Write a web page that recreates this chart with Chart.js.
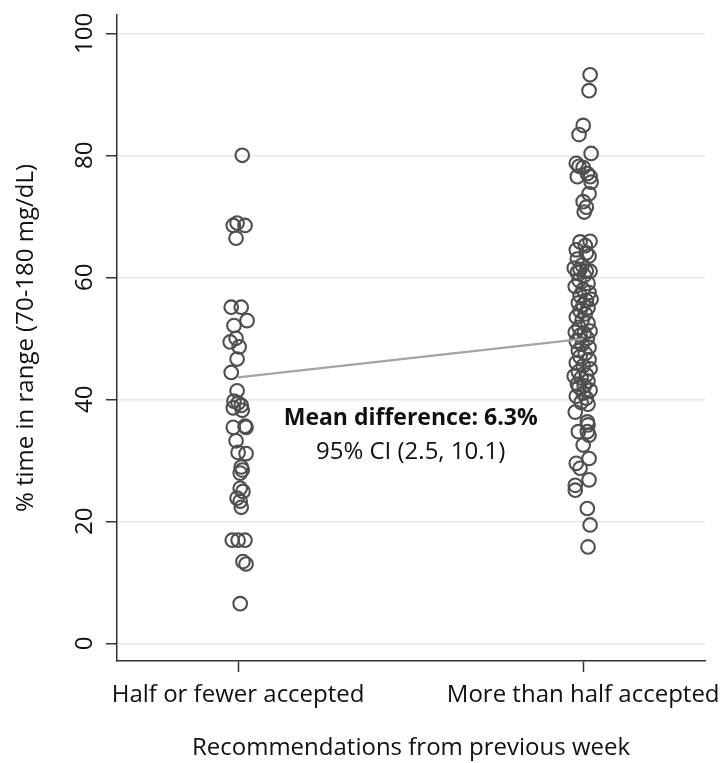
<!DOCTYPE html>
<html>
<head>
<meta charset="utf-8">
<script src="https://cdn.jsdelivr.net/npm/chart.js@4.4.1/dist/chart.umd.min.js"></script>
<style>
  html, body { margin: 0; padding: 0; background: #fff; }
  canvas { display: block; }
</style>
</head>
<body>
<canvas id="chart" width="727" height="763"></canvas>
<script>
// categorias e dados
const groupLabels = ['Half or fewer accepted', 'More than half accepted'];
const yTicks = [0, 20, 40, 60, 80, 100];
const groupMeans = [43.6, 49.9];

// grupo 1: valores e deslocamento horizontal (jitter, em unidades de categoria)
const halfOrFewerValues = [80.0, 68.9, 68.5, 68.5, 66.4, 55.1, 55.1, 52.9, 52.1, 50.0,
  49.4, 48.6, 46.6, 44.4, 41.4, 39.7, 39.4, 39.0, 38.6, 38.2,
  35.4, 35.6, 35.4, 33.2, 31.3, 31.1, 28.9, 28.4, 27.9, 25.4,
  24.9, 23.8, 23.3, 22.3, 16.9, 16.9, 16.9, 13.4, 13.0, 6.5];
const halfOrFewerJitter = [0.012, -0.003, -0.014, 0.020, -0.006, -0.020, 0.009, 0.026, -0.012, -0.006,
  -0.023, 0.003, -0.003, -0.020, -0.003, -0.012, 0.000, 0.009, -0.014, 0.012,
  -0.014, 0.020, 0.023, -0.006, 0.000, 0.023, 0.009, 0.012, 0.006, 0.006,
  0.014, -0.003, 0.006, 0.009, -0.017, 0.000, 0.020, 0.014, 0.023, 0.006];

// grupo 2
const moreThanHalfValues = [93.2, 90.6, 84.9, 83.4, 80.3, 78.7, 78.2, 78.0, 77.0, 76.5,
  76.5, 75.6, 73.7, 72.4, 71.5, 70.7, 65.9, 65.8, 65.2, 64.5,
  64.0, 63.5, 63.0, 62.0, 61.5, 61.3, 61.0, 61.0, 60.8, 60.3,
  59.5, 59.0, 58.5, 58.0, 57.5, 57.0, 56.4, 56.2, 55.8, 55.5,
  55.0, 54.5, 54.0, 53.5, 53.0, 52.5, 51.8, 51.2, 51.0, 50.8,
  50.5, 50.0, 49.5, 49.0, 48.5, 48.0, 47.5, 47.0, 46.5, 46.0,
  45.5, 45.0, 44.5, 44.0, 43.8, 43.5, 43.0, 42.5, 42.2, 42.0,
  41.5, 41.0, 40.5, 40.2, 39.5, 39.2, 37.9, 36.3, 35.8, 34.7,
  34.7, 34.1, 32.5, 30.3, 29.5, 28.7, 26.8, 25.9, 25.1, 22.1,
  19.4, 15.8];
const moreThanHalfJitter = [0.020, 0.017, 0.000, -0.012, 0.023, -0.020, -0.012, 0.000, 0.012, -0.017,
  0.020, 0.023, 0.017, 0.000, 0.009, 0.003, 0.020, -0.009, 0.006, -0.020,
  0.009, 0.017, -0.017, -0.003, -0.026, -0.009, 0.009, 0.020, -0.017, 0.003,
  -0.012, 0.014, -0.023, 0.000, 0.017, -0.009, 0.023, 0.009, -0.014, 0.000,
  0.014, -0.009, 0.006, -0.020, -0.003, 0.014, -0.012, 0.020, -0.023, 0.003,
  -0.009, 0.012, -0.020, -0.003, 0.017, -0.014, 0.006, -0.009, 0.017, -0.020,
  0.000, 0.020, -0.014, 0.009, -0.026, -0.006, 0.014, -0.017, 0.003, -0.012,
  0.020, 0.000, -0.020, 0.009, -0.006, 0.014, -0.023, 0.012, 0.014, -0.014,
  0.012, 0.017, 0.000, 0.017, -0.020, -0.009, 0.017, -0.023, -0.023, 0.012,
  0.020, 0.014];

const noteTitle = 'Mean difference: 6.3%';
const noteText = '95% CI (2.5, 10.1)';

const fontFamily = '"Open Sans", "Noto Sans", sans-serif';

function toPoints(values, jitter, center) {
    return values.map((v, i) => ({ x: center + jitter[i], y: v }));
}

// texto da diferença média
const notePlugin = {
    id: 'note',
    afterDatasetsDraw(chart) {
        const { ctx, scales } = chart;
        const cx = scales.x.getPixelForValue(1.5);
        ctx.save();
        ctx.textAlign = 'center';
        ctx.textBaseline = 'middle';
        ctx.fillStyle = '#111';
        ctx.font = 'bold 23px ' + fontFamily;
        ctx.fillText(noteTitle, cx, scales.y.getPixelForValue(36.9));
        ctx.font = '24px ' + fontFamily;
        ctx.fillText(noteText, cx, scales.y.getPixelForValue(31.35));
        ctx.restore();
    }
};

const bgPlugin = {
    id: 'bg',
    beforeDraw(chart) {
        const ctx = chart.ctx;
        ctx.save();
        ctx.fillStyle = '#fff';
        ctx.fillRect(0, 0, chart.width, chart.height);
        ctx.restore();
    }
};

const ctx = document.getElementById('chart').getContext('2d');

new Chart(ctx, {
    type: 'scatter',
    data: {
        datasets: [
            {
                type: 'line',
                data: groupMeans.map((m, i) => ({ x: i + 1, y: m })),
                borderColor: '#a3a3a3',
                borderWidth: 2.2,
                pointRadius: 0,
                fill: false,
                order: 0
            },
            {
                data: toPoints(halfOrFewerValues, halfOrFewerJitter, 1),
                pointRadius: 6.8,
                pointBorderWidth: 2.1,
                borderColor: '#4f4f4f',
                backgroundColor: 'rgba(0,0,0,0)',
                order: 1
            },
            {
                data: toPoints(moreThanHalfValues, moreThanHalfJitter, 2),
                pointRadius: 6.8,
                pointBorderWidth: 2.1,
                borderColor: '#4f4f4f',
                backgroundColor: 'rgba(0,0,0,0)',
                order: 1
            }
        ]
    },
    options: {
        responsive: false,
        animation: false,
        events: [],
        layout: { padding: { left: 0, top: 15, right: 22, bottom: 0 } },
        plugins: {
            legend: { display: false },
            tooltip: { enabled: false }
        },
        scales: {
            x: {
                type: 'linear',
                min: 0.649,
                max: 2.353,
                afterBuildTicks: s => { s.ticks = [{ value: 1 }, { value: 2 }]; },
                afterFit: s => {
                    s.height = 102;
                    s.paddingLeft = 0;
                    s.paddingRight = 0;
                },
                ticks: {
                    callback: (v, i) => groupLabels[i],
                    font: { family: fontFamily, size: 24 },
                    color: '#111',
                    padding: 9,
                    maxRotation: 0,
                    autoSkip: false
                },
                grid: {
                    drawOnChartArea: false,
                    drawTicks: true,
                    tickLength: 11,
                    tickColor: '#333',
                    tickWidth: 1.5
                },
                border: { color: '#333', width: 1.5 },
                title: {
                    display: true,
                    text: 'Recommendations from previous week',
                    font: { family: fontFamily, size: 24 },
                    color: '#111',
                    padding: { top: 0, bottom: 0 }
                }
            },
            y: {
                min: -2.9,
                max: 103,
                afterBuildTicks: s => { s.ticks = yTicks.map(v => ({ value: v })); },
                afterFit: s => {
                    s.width = 117;
                    s.paddingTop = 0;
                    s.paddingBottom = 0;
                },
                ticks: {
                    font: { family: fontFamily, size: 24 },
                    color: '#111',
                    minRotation: 90,
                    maxRotation: 90,
                    crossAlign: 'center',
                    padding: 0
                },
                grid: {
                    color: '#e6e6e6',
                    lineWidth: 1.5,
                    tickLength: 11,
                    tickColor: '#333',
                    tickWidth: 1.5
                },
                border: { color: '#333', width: 1.5 },
                title: {
                    display: true,
                    text: '% time in range (70-180 mg/dL)',
                    font: { family: fontFamily, size: 24 },
                    color: '#111',
                    padding: { top: 12, bottom: 0 }
                }
            }
        }
    },
    plugins: [bgPlugin, notePlugin]
});
</script>
</body>
</html>
